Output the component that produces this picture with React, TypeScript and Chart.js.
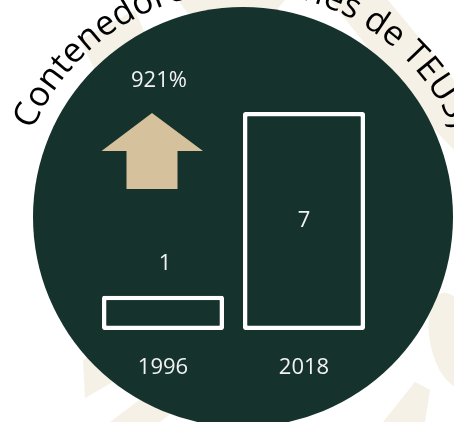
import React, { useEffect, useRef } from "react";
import { Chart, registerables } from "chart.js";

Chart.register(...registerables);

const years = ["1996", "2018"];
const values = [1.1, 7];
const valueLabels = ["1", "7"];
const growthLabel = "921%";
const title = "Contenedores (millones de TEUS)";

const CIRCLE = "#15322c";
const TAN = "#d5c19b";
const WM = "#f6f1e6";
const TEXT = "#f2f2f2";
const FONT = '"Open Sans", "DejaVu Sans", sans-serif';

const decorPlugin = {
  id: "decor",
  beforeDraw(chart: any) {
    const ctx = chart.ctx as CanvasRenderingContext2D;
    ctx.save();
    ctx.fillStyle = "#ffffff";
    ctx.fillRect(0, 0, chart.width, chart.height);
    // faint watermark shapes
    ctx.fillStyle = WM;
    const polys: number[][][] = [
      [[80, 40], [135, 10], [150, 45], [95, 70]],
      [[178, 0], [285, 0], [260, 30], [200, 30]],
      [[330, 0], [388, 0], [454, 80], [454, 150], [430, 125]],
      [[83, 360], [110, 345], [130, 372], [85, 398]],
      [[110, 422], [150, 392], [175, 410], [160, 422]],
      [[383, 422], [415, 382], [430, 390], [425, 422]],
    ];
    for (const p of polys) {
      ctx.beginPath();
      ctx.moveTo(p[0][0], p[0][1]);
      for (let i = 1; i < p.length; i++) ctx.lineTo(p[i][0], p[i][1]);
      ctx.closePath();
      ctx.fill();
    }
    ctx.beginPath();
    ctx.ellipse(452, 340, 22, 48, -0.2, 0, Math.PI * 2);
    ctx.fill();

    // circle
    const cx = 243, cy = 217, r = 210;
    ctx.fillStyle = CIRCLE;
    ctx.beginPath();
    ctx.arc(cx, cy, r, 0, Math.PI * 2);
    ctx.fill();

    // arrow
    ctx.fillStyle = TAN;
    ctx.beginPath();
    ctx.moveTo(152, 113);
    ctx.lineTo(203, 151);
    ctx.lineTo(177.5, 151);
    ctx.lineTo(177.5, 189);
    ctx.lineTo(126.5, 189);
    ctx.lineTo(126.5, 151);
    ctx.lineTo(101.5, 151);
    ctx.closePath();
    ctx.fill();

    // growth label
    ctx.fillStyle = TEXT;
    ctx.font = `22px ${FONT}`;
    ctx.textAlign = "center";
    ctx.textBaseline = "middle";
    ctx.fillText(growthLabel, 159, 81);

    // curved title
    ctx.fillStyle = "#000000";
    ctx.font = `34.5px ${FONT}`;
    ctx.textAlign = "left";
    ctx.textBaseline = "alphabetic";
    const tcy = 220.5;
    const R = 229;
    const total = ctx.measureText(title).width;
    let ang = -Math.PI / 2 - total / (2 * R);
    for (const ch of title) {
      const w = ctx.measureText(ch).width;
      const a = ang + w / (2 * R);
      ctx.save();
      ctx.translate(cx + R * Math.cos(a), tcy + R * Math.sin(a));
      ctx.rotate(a + Math.PI / 2);
      ctx.fillText(ch, -w / 2, 0);
      ctx.restore();
      ang += w / R;
    }
    ctx.restore();
  },
  afterDatasetsDraw(chart: any) {
    const ctx = chart.ctx as CanvasRenderingContext2D;
    const meta = chart.getDatasetMeta(0);
    ctx.save();
    ctx.fillStyle = TEXT;
    ctx.font = `22px ${FONT}`;
    ctx.textAlign = "center";
    ctx.textBaseline = "middle";
    meta.data.forEach((el: any, i: number) => {
      const h = el.base - el.y;
      const y = h > 80 ? (el.y + el.base) / 2 : el.y - 32;
      ctx.fillText(valueLabels[i], el.x + (h > 80 ? 0 : 2), y);
    });
    ctx.restore();
  },
};

export default function App() {
  const ref = useRef<HTMLCanvasElement | null>(null);
  useEffect(() => {
    if (!ref.current) return;
    const chart = new Chart(ref.current, {
      type: "bar",
      data: {
        labels: years,
        datasets: [
          {
            data: values,
            backgroundColor: CIRCLE,
            borderColor: "#ffffff",
            borderWidth: 4.5,
            borderSkipped: false,
            borderRadius: 2,
            barPercentage: 0.865,
            categoryPercentage: 1,
          },
        ],
      },
      options: {
        responsive: false,
        animation: false,
        layout: { padding: { left: 92.5, right: 79.5, top: 112, bottom: 15.6 } },
        plugins: { legend: { display: false }, tooltip: { enabled: false } },
        scales: {
          x: {
            grid: { display: false, drawTicks: false },
            border: { display: false },
            ticks: { color: TEXT, font: { family: FONT, size: 22 }, padding: 25 },
          },
          y: { display: false, min: 0, max: 7 },
        },
      },
      plugins: [decorPlugin],
    } as any);
    return () => chart.destroy();
  }, []);
  return (
    <div style={{ position: "absolute", left: 0, top: 0, width: 454, height: 422 }}>
      <canvas ref={ref} width={454} height={422} style={{ display: "block" }} />
    </div>
  );
}
